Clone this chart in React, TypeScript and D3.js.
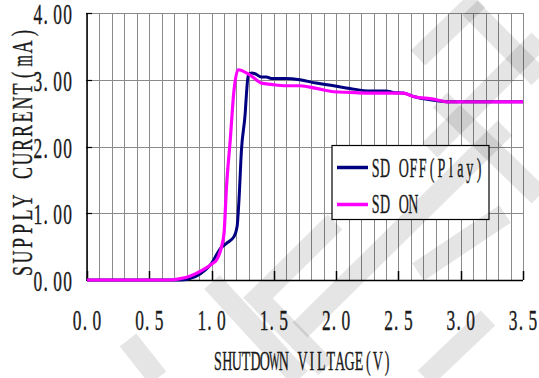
import React from "react";
import * as d3 from "d3";

// Shutdown-pin voltage sweep (V) and supply current (mA)
const offVoltage = [0, 0.5, 0.75, 0.87, 0.95, 1.0, 1.07, 1.12, 1.18, 1.205, 1.22, 1.24, 1.27, 1.28, 1.295, 1.32, 1.35, 1.4, 1.44, 1.48, 1.6, 1.71, 1.84, 1.98, 2.11, 2.27, 2.4, 2.46, 2.54, 2.62, 2.72, 2.89, 3.5];
const offCurrent = [0, 0, 0, 0.05, 0.15, 0.25, 0.47, 0.55, 0.65, 0.8, 1.2, 1.95, 2.5, 2.79, 3.07, 3.1, 3.09, 3.04, 3.04, 3.02, 3.02, 3.0, 2.95, 2.91, 2.87, 2.83, 2.83, 2.81, 2.8, 2.75, 2.71, 2.67, 2.67];

const onVoltage = [0, 0.66, 0.75, 0.83, 0.93, 1.01, 1.04, 1.08, 1.1, 1.12, 1.15, 1.18, 1.213, 1.31, 1.4, 1.48, 1.6, 1.71, 1.84, 1.98, 2.11, 2.24, 2.54, 2.62, 2.78, 2.89, 3.5];
const onCurrent = [0, 0, 0.02, 0.06, 0.15, 0.25, 0.3, 0.5, 0.7, 1.4, 2.1, 2.84, 3.15, 3.07, 2.95, 2.93, 2.91, 2.91, 2.87, 2.82, 2.81, 2.8, 2.8, 2.75, 2.71, 2.67, 2.67];

const xTickValues = [0, 0.5, 1.0, 1.5, 2.0, 2.5, 3.0, 3.5];
const yTickValues = [0, 1, 2, 3, 4];
const seriesNames = ["SD OFF(Play)", "SD ON"];
const seriesColors = ["#000080", "#ff00ff"];
const xTitle = "SHUTDOWN VILTAGE(V)";
const yTitle = "SUPPLY CURRENT(mA)";

const W = 539;
const H = 378;
const plot = { left: 87, top: 13, right: 523, bottom: 280 };
const FONT = "'Liberation Serif', 'DejaVu Serif', serif";
const INK = "#1a1a1a";

// Fixed-pitch, horizontally condensed text: every character sits in its own cell.
function PitchText(props: {
  text: string;
  x: number;
  y: number;
  pitch: number;
  size: number;
  sx: number;
  anchor?: "start" | "middle" | "end";
  rotate?: boolean;
}) {
  const { text, x, y, pitch, size, sx, anchor = "start", rotate = false } = props;
  const chars = Array.from(text);
  const total = chars.length * pitch;
  const start = anchor === "start" ? 0 : anchor === "middle" ? -total / 2 : -total;
  return (
    <g transform={`translate(${x},${y})${rotate ? " rotate(-90)" : ""}`}>
      {chars.map((ch, i) => {
        if (ch === " ") return null;
        let cx = start + (i + 0.5) * pitch;
        if (ch === ".") cx -= pitch * 0.22;
        const wide = ch === "W" || ch === "M" || ch === "m";
        return (
          <text
            key={i}
            transform={`translate(${cx},0) scale(${wide ? sx * 0.8 : sx},1)`}
            textAnchor="middle"
            fontSize={size}
            fill={INK}
            stroke={INK}
            strokeWidth={0.35}
          >
            {ch}
          </text>
        );
      })}
    </g>
  );
}

export default function App() {
  const x = d3.scaleLinear().domain([0, 3.5]).range([plot.left, plot.right]);
  const y = d3.scaleLinear().domain([0, 4]).range([plot.bottom, plot.top]);

  const minorX = d3.range(0, 36).map((i) => i / 10);

  const line = d3
    .line<[number, number]>()
    .x((d) => x(d[0]))
    .y((d) => y(d[1]))
    .curve(d3.curveMonotoneX);

  const offPath = line(offVoltage.map((v, i) => [v, offCurrent[i]]) as [number, number][]) || "";
  const onPath = line(onVoltage.map((v, i) => [v, onCurrent[i]]) as [number, number][]) || "";

  // Light diagonal watermark strokes
  const watermark = [
    "M478,0 L418,58",
    "M470,8 L539,78",
    "M539,40 L430,150",
    "M440,100 L539,196",
    "M505,128 L300,330",
    "M335,222 L258,298 L326,368",
    "M212,282 L300,378",
    "M128,340 L158,378",
    "M418,272 L505,214",
    "M425,378 L488,318",
  ];

  return (
    <svg
      width={W}
      height={H}
      style={{ position: "absolute", left: 0, top: 0, background: "#fff" }}
      fontFamily={FONT}
    >
      <rect x={0} y={0} width={W} height={H} fill="#fff" />

      {/* vertical grid every 0.1 V */}
      {minorX.map((v, i) => (
        <line
          key={"gx" + i}
          x1={Math.round(x(v)) + 0.5}
          x2={Math.round(x(v)) + 0.5}
          y1={plot.top}
          y2={plot.bottom}
          stroke="#8a8a8a"
          strokeWidth={1}
        />
      ))}
      {/* horizontal grid every 1 mA */}
      {yTickValues.map((c) => (
        <line
          key={"gy" + c}
          x1={plot.left}
          x2={plot.right}
          y1={Math.round(y(c)) + 0.5}
          y2={Math.round(y(c)) + 0.5}
          stroke="#8a8a8a"
          strokeWidth={1}
        />
      ))}

      {/* axes */}
      <line x1={plot.left} x2={plot.left} y1={plot.top} y2={plot.bottom + 0.5} stroke="#000" strokeWidth={1.5} />
      <line x1={plot.left} x2={plot.right} y1={plot.bottom + 0.5} y2={plot.bottom + 0.5} stroke="#000" strokeWidth={1.5} />
      {xTickValues.map((v) => (
        <line
          key={"tx" + v}
          x1={Math.round(x(v)) + 0.5}
          x2={Math.round(x(v)) + 0.5}
          y1={plot.bottom - 9}
          y2={plot.bottom}
          stroke="#000"
          strokeWidth={1.5}
        />
      ))}
      {yTickValues.map((c) => (
        <line
          key={"ty" + c}
          x1={plot.left - 1}
          x2={plot.left + 5}
          y1={Math.round(y(c)) + 0.5}
          y2={Math.round(y(c)) + 0.5}
          stroke="#000"
          strokeWidth={1.2}
        />
      ))}

      {/* series */}
      <path d={offPath} fill="none" stroke={seriesColors[0]} strokeWidth={3} strokeLinejoin="round" />
      <path d={onPath} fill="none" stroke={seriesColors[1]} strokeWidth={3.2} strokeLinejoin="round" />

      {/* tick labels */}
      {yTickValues.map((c) => (
        <PitchText
          key={"ly" + c}
          text={c.toFixed(2)}
          x={72.5}
          y={y(c) + 11}
          pitch={9.9}
          size={30}
          sx={0.58}
          anchor="end"
        />
      ))}
      {xTickValues.map((v) => (
        <PitchText
          key={"lx" + v}
          text={v.toFixed(1)}
          x={x(v)}
          y={330}
          pitch={9.8}
          size={30}
          sx={0.58}
          anchor="middle"
        />
      ))}

      {/* axis titles */}
      <PitchText text={xTitle} x={302.5} y={370} pitch={9.4} size={28} sx={0.5} anchor="middle" />
      <PitchText text={yTitle} x={32} y={152} pitch={14} size={30} sx={0.6} anchor="middle" rotate />

      {/* legend */}
      <rect x={332} y={145.5} width={157} height={74} fill="#fff" stroke="#000" strokeWidth={1.2} />
      {seriesNames.map((name, i) => (
        <g key={name}>
          <line
            x1={337}
            x2={368}
            y1={167.5 + i * 37}
            y2={167.5 + i * 37}
            stroke={seriesColors[i]}
            strokeWidth={3.5}
          />
          <PitchText text={name} x={371} y={177 + i * 36} pitch={9.4} size={28} sx={0.5} />
        </g>
      ))}

      {/* watermark */}
      <g fill="none" stroke="#000" strokeOpacity={0.1} strokeWidth={21} strokeLinecap="butt" strokeLinejoin="miter">
        {watermark.map((d, i) => (
          <path key={"wm" + i} d={d} />
        ))}
      </g>
    </svg>
  );
}
